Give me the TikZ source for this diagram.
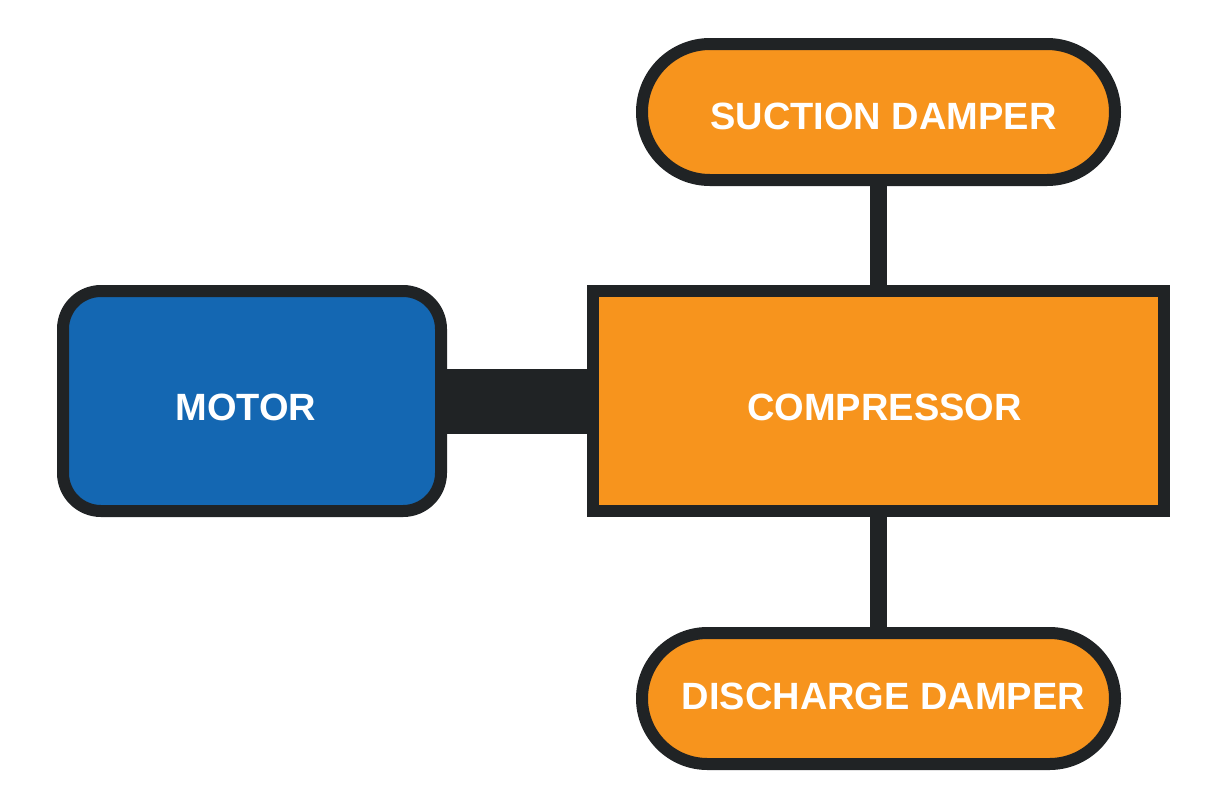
\documentclass[tikz,border=0pt]{standalone}
\usepackage{fontspec}
\setmainfont{Liberation Sans}
\definecolor{edgedark}{HTML}{202325}
\definecolor{motorblue}{HTML}{1467B2}
\definecolor{comporange}{HTML}{F7941D}
\begin{document}
\begin{tikzpicture}[x=0.5pt, y=-0.5pt,
    box/.style={draw=edgedark, line width=6pt, inner sep=0pt,
        font=\bfseries\fontsize{19pt}{23pt}\selectfont, text=white},
    shaft/.style={draw=edgedark, line width=32.5pt},
    stem/.style={draw=edgedark, line width=8.5pt}]
        \useasboundingbox (0, 0) rectangle (1228, 810);
        
        % Khối chính
        \node[box, fill=motorblue, rounded corners=19pt, minimum width=189pt, minimum height=110pt] (motor) at (252, 401) {\raisebox{-3pt}[\height][0pt]{MOTOR}\kern6pt};
        \node[box, fill=comporange, minimum width=285.5pt, minimum height=110pt] (compressor) at (878.5, 401) {\kern6pt\raisebox{-3pt}[\height][0pt]{COMPRESSOR}};
        
        % Bộ giảm chấn
        \node[box, fill=comporange, rounded corners=34pt, minimum width=236.5pt, minimum height=68pt] (suction) at (878.5, 112) {\kern5pt\raisebox{-2pt}[\height][0pt]{SUCTION DAMPER}};
        \node[box, fill=comporange, rounded corners=32.75pt, minimum width=236.5pt, minimum height=65.5pt] (discharge) at (878.5, 698.5) {\kern5pt\raisebox{1pt}[\height][0pt]{DISCHARGE DAMPER}};
        
        % Trục nối và đường ống
        \draw[shaft] (motor.east) -- (compressor.west);
        \draw[stem] (suction.south) -- (compressor.north);
        \draw[stem] (compressor.south) -- (discharge.north);
    \end{tikzpicture}
\end{document}
